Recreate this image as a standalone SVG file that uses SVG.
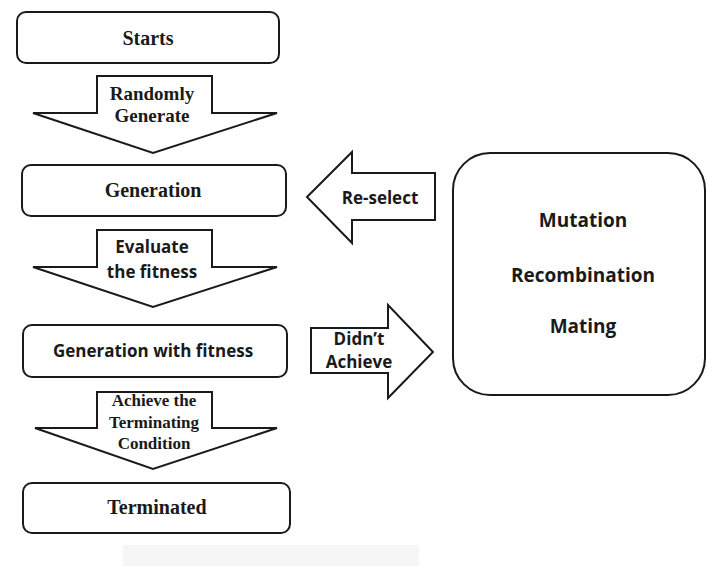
<svg xmlns="http://www.w3.org/2000/svg" width="707" height="566" viewBox="0 0 707 566">
<style>
.box{fill:#fff;stroke:#1a1a1a;stroke-width:2}
.arr{fill:#fff;stroke:#1a1a1a;stroke-width:2;stroke-linejoin:miter}
.serif{font-family:"Liberation Serif","Times New Roman",serif;font-weight:bold;fill:#1a1a1a;text-anchor:middle}
.sans{font-family:"Open Sans","Liberation Sans",sans-serif;font-weight:bold;fill:#1a1a1a;text-anchor:middle;font-size:17px}
.big{font-size:19px}
</style>
<rect width="707" height="566" fill="#fff"/>
<rect x="123" y="545" width="296" height="21" fill="#f6f6f6"/>
<g id="starts">
<rect class="box" x="17" y="12" width="262" height="51" rx="9"/>
<text class="serif" x="148" y="45" font-size="20">Starts</text>
</g>
<g id="generation">
<rect class="box" x="22" y="165" width="264" height="51" rx="9"/>
<text class="serif" x="153" y="197" font-size="20">Generation</text>
</g>
<g id="generation-fitness">
<rect class="box" x="23" y="325" width="264" height="52" rx="9"/>
<text class="sans" x="153" y="357">Generation with fitness</text>
</g>
<g id="terminated">
<rect class="box" x="23" y="483" width="267" height="50" rx="9"/>
<text class="serif" x="157" y="514" font-size="20">Terminated</text>
</g>
<g id="operators">
<rect class="box" x="453" y="153" width="252" height="242" rx="37"/>
<text class="sans big" x="583" y="227">Mutation</text>
<text class="sans big" x="583" y="282">Recombination</text>
<text class="sans big" x="583" y="333">Mating</text>
</g>
<g id="connectors">
<g id="randomly-generate">
<polygon class="arr" points="97,76 212,76 212,113 277,113 153,153 33,113 97,113"/>
<text class="serif" x="152" y="100" font-size="19">Randomly</text>
<text class="serif" x="152" y="122" font-size="19">Generate</text>
</g>
<g id="evaluate">
<polygon class="arr" points="97,230 212,230 212,267 277,267 153,307 33,267 97,267"/>
<text class="sans" x="152" y="253">Evaluate</text>
<text class="sans" x="152" y="278">the fitness</text>
</g>
<g id="achieve">
<polygon class="arr" points="97,392 212,392 212,428 277,428 153,469 35,428 97,428"/>
<text class="serif" x="154" y="406" font-size="17">Achieve the</text>
<text class="serif" x="154" y="428" font-size="17">Terminating</text>
<text class="serif" x="154" y="449" font-size="17">Condition</text>
</g>
<g id="reselect">
<polygon class="arr" points="307,197 352,152 352,173 435,173 435,220 352,220 352,243"/>
<text class="sans" x="380" y="204">Re-select</text>
</g>
<g id="didnt-achieve">
<polygon class="arr" points="311,328 388,328 388,305 433,352 388,398 388,373 311,373"/>
<text class="sans" x="359" y="345">Didn’t</text>
<text class="sans" x="359" y="368">Achieve</text>
</g>
</g>
</svg>
